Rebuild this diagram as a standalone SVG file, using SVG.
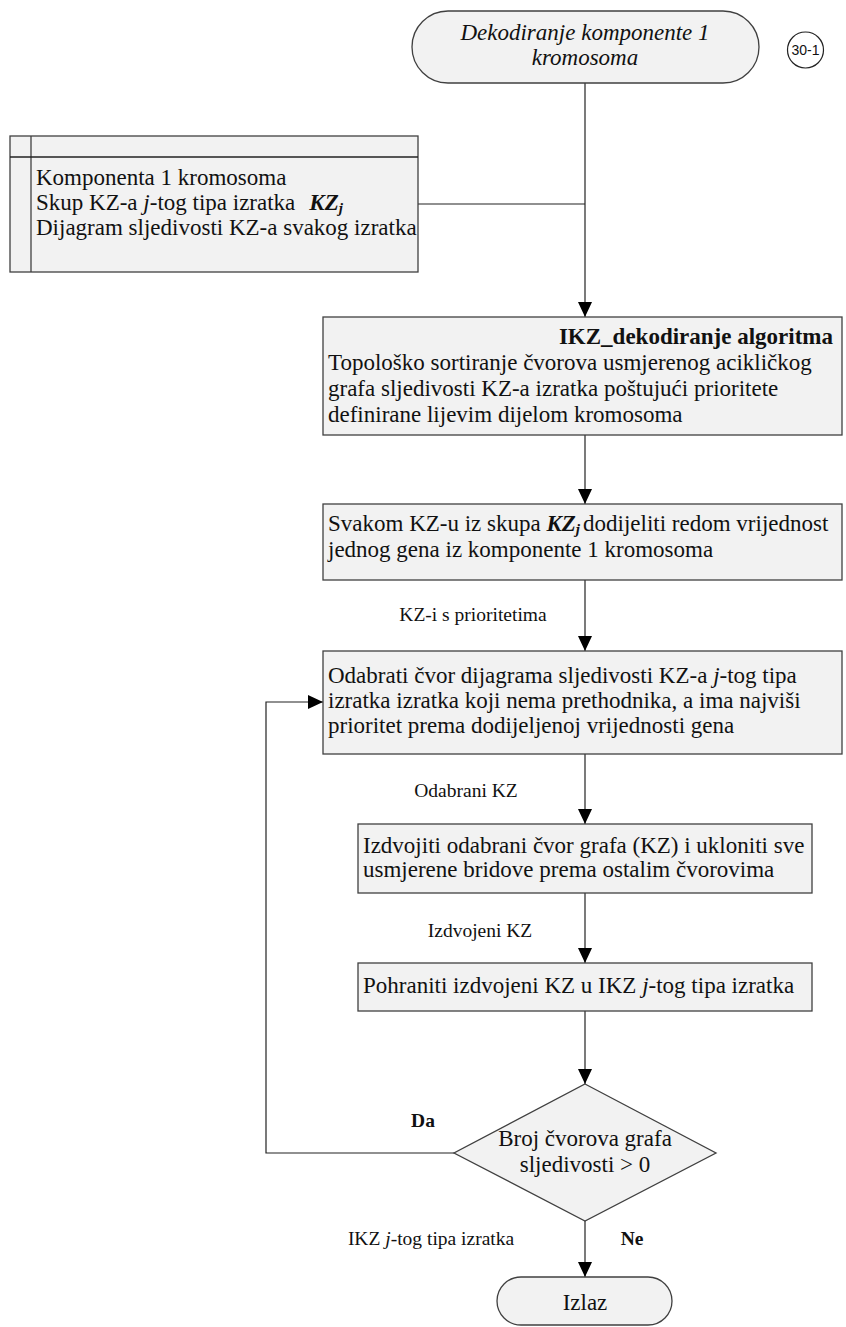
<svg xmlns="http://www.w3.org/2000/svg" width="846" height="1327" viewBox="0 0 846 1327">
<style>
.shape{fill:#f2f2f2;stroke:#404040;stroke-width:1.3}
.t{font-family:"Liberation Serif","Times New Roman",serif;font-size:23px;fill:#111}
.lbl{font-family:"Liberation Serif","Times New Roman",serif;font-size:19.5px;fill:#111}
.c{text-anchor:middle}
.i{font-style:italic}
.b{font-weight:bold}
.conn{fill:none;stroke:#222;stroke-width:1.2}
</style>
<defs>
<marker id="arr" markerUnits="userSpaceOnUse" markerWidth="16" markerHeight="14" refX="15" refY="7" orient="auto">
<path d="M0,0 L15,7 L0,14 Z" fill="#000"/>
</marker>
</defs>

<g id="connectors">
<line class="conn" x1="585" y1="83" x2="585" y2="317" marker-end="url(#arr)"/>
<line class="conn" x1="418" y1="204" x2="585" y2="204"/>
<line class="conn" x1="585" y1="435" x2="585" y2="504" marker-end="url(#arr)"/>
<line class="conn" x1="585" y1="580" x2="585" y2="651" marker-end="url(#arr)"/>
<line class="conn" x1="585" y1="754" x2="585" y2="824" marker-end="url(#arr)"/>
<line class="conn" x1="585" y1="893" x2="585" y2="963" marker-end="url(#arr)"/>
<line class="conn" x1="585" y1="1011" x2="585" y2="1084" marker-end="url(#arr)"/>
<polyline class="conn" points="454,1153 266,1153 266,702 323,702" marker-end="url(#arr)"/>
<line class="conn" x1="585" y1="1221" x2="585" y2="1277" marker-end="url(#arr)"/>
<text class="lbl c" x="473" y="621">KZ-i s prioritetima</text>
<text class="lbl c" x="466" y="797">Odabrani KZ</text>
<text class="lbl c" x="480" y="937">Izdvojeni KZ</text>
<text class="lbl b c" x="423" y="1127">Da</text>
<text class="lbl b c" x="632" y="1245">Ne</text>
<text class="lbl c" x="431" y="1245">IKZ <tspan class="i">j</tspan>-tog tipa izratka</text>
</g>

<g id="start">
<rect class="shape" x="412" y="11" width="347" height="72" rx="36" ry="36"/>
<text class="t i c" x="585" y="40">Dekodiranje komponente 1</text>
<text class="t i c" x="585" y="65">kromosoma</text>
</g>

<g id="ref">
<circle cx="805.5" cy="50" r="18" fill="#fff" stroke="#222" stroke-width="1.2"/>
<text x="805.5" y="55" text-anchor="middle" font-family="Liberation Sans, Arial, sans-serif" font-size="14" fill="#111">30-1</text>
</g>

<g id="input">
<rect class="shape" x="10" y="136" width="408" height="136"/>
<line x1="31" y1="136" x2="31" y2="272" stroke="#404040" stroke-width="1.3"/>
<line x1="10" y1="157" x2="418" y2="157" stroke="#222" stroke-width="1.3"/>
<text class="t" x="36" y="185">Komponenta 1 kromosoma</text>
<text class="t" x="36" y="210">Skup KZ-a <tspan class="i">j</tspan>-tog tipa izratka<tspan class="b i" dx="14">KZ</tspan><tspan class="b i" font-size="15" dy="3">j</tspan></text>
<text class="t" x="36" y="235">Dijagram sljedivosti KZ-a svakog izratka</text>
</g>

<g id="algoritam">
<rect class="shape" x="323" y="317" width="519" height="118"/>
<text class="t b" x="833" y="344" text-anchor="end">IKZ_dekodiranje algoritma</text>
<text class="t" x="328" y="370">Topološko sortiranje čvorova usmjerenog acikličkog</text>
<text class="t" x="328" y="396">grafa sljedivosti KZ-a izratka poštujući prioritete</text>
<text class="t" x="328" y="422">definirane lijevim dijelom kromosoma</text>
</g>

<g id="dodjela">
<rect class="shape" x="323" y="504" width="519" height="76"/>
<text class="t" x="328" y="531">Svakom KZ-u iz skupa <tspan class="b i">KZ</tspan><tspan class="b i" font-size="15" dy="3">j</tspan><tspan dy="-3" dx="3">dodijeliti redom vrijednost</tspan></text>
<text class="t" x="328" y="557">jednog gena iz komponente 1 kromosoma</text>
</g>

<g id="odabir">
<rect class="shape" x="323" y="651" width="519" height="103"/>
<text class="t" x="328" y="683">Odabrati čvor dijagrama sljedivosti KZ-a <tspan class="i">j</tspan>-tog tipa</text>
<text class="t" x="328" y="708">izratka izratka koji nema prethodnika, a ima najviši</text>
<text class="t" x="328" y="733">prioritet prema dodijeljenoj vrijednosti gena</text>
</g>

<g id="izdvajanje">
<rect class="shape" x="358" y="824" width="454" height="69"/>
<text class="t" x="363" y="853">Izdvojiti odabrani čvor grafa (KZ) i ukloniti sve</text>
<text class="t" x="363" y="877">usmjerene bridove prema ostalim čvorovima</text>
</g>

<g id="pohrana">
<rect class="shape" x="358" y="963" width="454" height="48"/>
<text class="t" x="363" y="993">Pohraniti izdvojeni KZ u IKZ <tspan class="i">j</tspan>-tog tipa izratka</text>
</g>

<g id="odluka">
<polygon class="shape" points="585,1084 716,1153 585,1221 454,1153"/>
<text class="t c" x="585" y="1146">Broj čvorova grafa</text>
<text class="t c" x="585" y="1172">sljedivosti &gt; 0</text>
</g>

<g id="izlaz">
<rect class="shape" x="497" y="1277" width="175" height="48" rx="24" ry="24"/>
<text class="t c" x="585" y="1310">Izlaz</text>
</g>
</svg>
